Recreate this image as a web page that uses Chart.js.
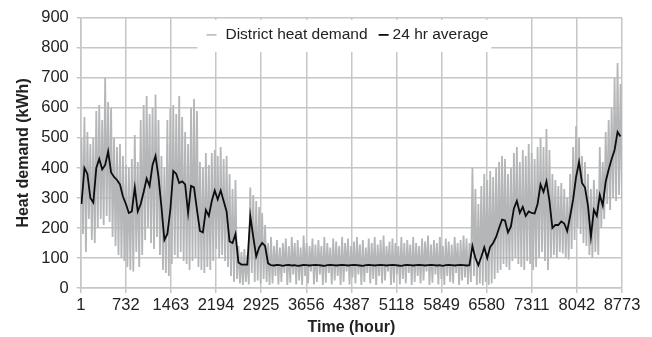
<!DOCTYPE html>
<html>
<head>
<meta charset="utf-8">
<script src="https://cdn.jsdelivr.net/npm/chart.js@4/dist/chart.umd.min.js"></script>
<style>
  html, body { margin: 0; padding: 0; background: #fff; }
  #wrap { width: 652px; height: 337px; position: relative; }
</style>
</head>
<body>
<div id="wrap"><canvas id="c" width="652" height="337"></canvas></div>
<script>
// ---- data ----
// Hour of the first sample and hours per sample (2-day steps)
const startHour = 1;
const sampleHours = 48;

// x-axis tick labels (hours)
const xTickValues = [1, 732, 1463, 2194, 2925, 3656, 4387, 5118, 5849, 6580, 7311, 8042, 8773];
// y-axis ticks
const yTickValues = [0, 100, 200, 300, 400, 500, 600, 700, 800, 900];

const seriesNames = ["District heat demand", "24 hr average"];

// 24 hr average, one value every 2 days (kWh)
const avgDemand = [
  280, 400, 380, 300, 285, 400, 430, 395, 410, 455,
  385, 370, 360, 345, 305, 280, 250, 255, 335, 255,
  280, 320, 365, 340, 410, 440, 370, 270, 160, 180,
  260, 390, 380, 350, 355, 345, 250, 340, 335, 260,
  190, 185, 260, 240, 290, 325, 295, 325, 290, 255,
  155, 150, 180, 85, 78, 78, 78, 240, 170, 105,
  135, 150, 140, 82, 76, 75, 77, 76, 74, 76,
  77, 75, 76, 74, 75, 77, 76, 75, 76, 77,
  76, 75, 74, 76, 77, 76, 75, 76, 77, 76,
  75, 76, 77, 76, 75, 74, 76, 77, 76, 75,
  76, 77, 76, 75, 76, 77, 76, 75, 74, 76,
  77, 76, 75, 76, 77, 76, 75, 76, 77, 76,
  75, 76, 74, 76, 77, 76, 75, 76, 77, 76,
  75, 76, 140, 100, 76, 104, 135, 100, 137, 150,
  170, 200, 228, 225, 185, 205, 265, 290, 250, 270,
  240, 255, 250, 248, 280, 345, 320, 355, 290, 200,
  210, 210, 222, 215, 190, 240, 295, 370, 420, 350,
  335, 275, 170, 260, 240, 310, 275, 355, 395, 430,
  460, 520, 505
];

// Hourly demand: highest value in each 2-day step (kWh)
const demandHigh = [
  500, 570, 520, 480, 500, 590, 610, 560, 700, 620,
  600, 500, 470, 480, 440, 410, 400, 430, 510, 420,
  560, 610, 640, 580, 600, 645, 560, 440, 400, 560,
  600, 610, 580, 640, 570, 520, 480, 600, 630, 590,
  420, 400, 450, 410, 450, 460, 440, 470, 430, 440,
  380, 330, 360, 140, 120, 130, 110, 335, 310, 290,
  270, 250, 210, 150, 170, 140, 160, 135, 150, 165,
  140, 170, 150, 160, 135, 175, 150, 140, 165, 145,
  160, 140, 170, 150, 135, 165, 155, 140, 170, 150,
  165, 140, 155, 170, 145, 160, 135, 165, 150, 170,
  145, 160, 175, 140, 155, 165, 150, 140, 170, 150,
  160, 145, 170, 150, 140, 165, 155, 175, 145, 160,
  150, 170, 140, 165, 155, 145, 170, 150, 160, 175,
  165, 150, 400, 330, 280, 340, 380, 360, 390, 370,
  400, 420, 440, 430, 380, 400, 450, 470, 420, 460,
  440, 480, 450, 430, 470, 500, 470, 530, 460, 380,
  360, 340, 350, 330, 300, 380, 470, 540, 500, 440,
  420, 380, 330, 360, 330, 470, 420, 520, 560, 600,
  700, 750, 680
];

// Hourly demand: lowest value in each 2-day step (kWh)
const demandLow = [
  180, 120, 230, 160, 150, 200, 230, 210, 240, 220,
  170, 140, 110, 100, 90, 70, 60, 55, 120, 70,
  110, 160, 200, 150, 130, 170, 110, 60, 50, 40,
  80, 110, 100, 120, 90, 80, 60, 90, 100, 70,
  60, 50, 70, 60, 90, 130, 100, 110, 90, 70,
  40, 20, 30, 15, 10, 20, 12, 50, 20, 25,
  15, 30, 20, 10, 15, 40, 12, 20, 50, 10,
  18, 45, 12, 25, 10, 40, 15, 55, 12, 20,
  45, 10, 18, 50, 12, 25, 40, 10, 20, 55,
  12, 35, 15, 45, 10, 20, 50, 15, 30, 10,
  40, 15, 25, 55, 10, 18, 45, 12, 30, 15,
  50, 10, 20, 40, 15, 25, 55, 10, 18, 45,
  12, 30, 10, 40, 20, 15, 50, 10, 25, 35,
  12, 20, 40, 10, 15, 8, 20, 10, 15, 30,
  50, 60, 80, 70, 60, 90, 100, 80, 70, 60,
  90, 80, 60, 70, 100, 120, 90, 60, 100, 110,
  100, 120, 115, 100, 95, 130, 160, 200, 180, 150,
  140, 110, 100, 120, 110, 200, 230, 280, 260, 300,
  290, 310, 300
];

// ---- build library data from the arrays ----
const hourlyPoints = [];
demandHigh.forEach((hi, i) => {
  hourlyPoints.push({ x: startHour + i * sampleHours + 12, y: hi });
  hourlyPoints.push({ x: startHour + i * sampleHours + 36, y: demandLow[i] });
});
const avgPoints = avgDemand.map((v, i) => ({ x: startHour + i * sampleHours + 12, y: v }));

const FONT = "'Liberation Sans', Arial, Helvetica, sans-serif";
const gridColor = '#c6c6c6';
const grayColor = '#b4b6b8';
const blackColor = '#0d0d0d';

// Legend drawn inside the plot, on a white box, like the reference
const insideLegend = {
  id: 'insideLegend',
  afterDraw(chart) {
    const ctx = chart.ctx;
    const area = chart.chartArea;
    const ds = chart.data.datasets;
    ctx.save();
    ctx.font = '15.5px ' + FONT;
    const w1 = ctx.measureText(ds[0].label).width;
    const w2 = ctx.measureText(ds[1].label).width;
    const mark = 10, gapA = 9, gapB = 11, gapC = 4;
    const total = mark + gapA + w1 + gapB + mark + gapC + w2;
    const cx = (area.left + area.right) / 2 - 4;
    const x0 = cx - total / 2;
    const y = area.top + 17;
    ctx.fillStyle = '#ffffff';
    ctx.fillRect(x0 - 9, area.top + 2, total + 12, 32);
    // item 1
    ctx.strokeStyle = ds[0].borderColor;
    ctx.lineWidth = 1.5;
    ctx.beginPath(); ctx.moveTo(x0, y); ctx.lineTo(x0 + mark, y); ctx.stroke();
    ctx.fillStyle = '#222';
    ctx.textBaseline = 'middle';
    ctx.textAlign = 'left';
    ctx.fillText(ds[0].label, x0 + mark + gapA, y);
    // item 2
    const x1 = x0 + mark + gapA + w1 + gapB;
    ctx.strokeStyle = ds[1].borderColor;
    ctx.lineWidth = 1.8;
    ctx.beginPath(); ctx.moveTo(x1, y); ctx.lineTo(x1 + mark, y); ctx.stroke();
    ctx.fillText(ds[1].label, x1 + mark + gapC, y);
    ctx.restore();
  }
};

new Chart(document.getElementById('c'), {
  type: 'line',
  data: {
    datasets: [
      {
        label: seriesNames[0],
        data: hourlyPoints,
        borderColor: grayColor,
        backgroundColor: grayColor,
        borderWidth: 1.8,
        pointRadius: 0,
        tension: 0,
        order: 2
      },
      {
        label: seriesNames[1],
        data: avgPoints,
        borderColor: blackColor,
        backgroundColor: blackColor,
        borderWidth: 1.8,
        pointRadius: 0,
        tension: 0,
        order: 1
      }
    ]
  },
  options: {
    responsive: false,
    animation: false,
    events: [],
    layout: { padding: { left: 14, right: 30, top: 15, bottom: 0 } },
    plugins: {
      tooltip: { enabled: false },
      legend: { display: false }
    },
    scales: {
      x: {
        type: 'linear',
        min: xTickValues[0],
        max: xTickValues[xTickValues.length - 1],
        afterBuildTicks: s => { s.ticks = xTickValues.map(v => ({ value: v })); },
        grid: { color: gridColor, lineWidth: 1.5, tickLength: 5 },
        border: { color: gridColor, width: 1.5 },
        ticks: {
          autoSkip: false, maxRotation: 0, padding: 3,
          color: '#222', font: { family: FONT, size: 16.5 },
          callback: v => String(v)
        },
        title: {
          display: true, text: 'Time (hour)', color: '#222',
          font: { family: FONT, size: 16, weight: 'bold' },
          padding: { top: -1, bottom: 0 }
        }
      },
      y: {
        min: yTickValues[0],
        max: yTickValues[yTickValues.length - 1],
        afterBuildTicks: s => { s.ticks = yTickValues.map(v => ({ value: v })); },
        grid: { color: gridColor, lineWidth: 1.5, tickLength: 4 },
        border: { color: gridColor, width: 1.5 },
        ticks: {
          padding: 8, color: '#222', font: { family: FONT, size: 16.5 }
        },
        title: {
          display: true, text: 'Heat demand (kWh)', color: '#222',
          font: { family: FONT, size: 16, weight: 'bold' },
          padding: { top: 0, bottom: 0 }
        }
      }
    }
  },
  plugins: [insideLegend]
});
</script>
</body>
</html>
